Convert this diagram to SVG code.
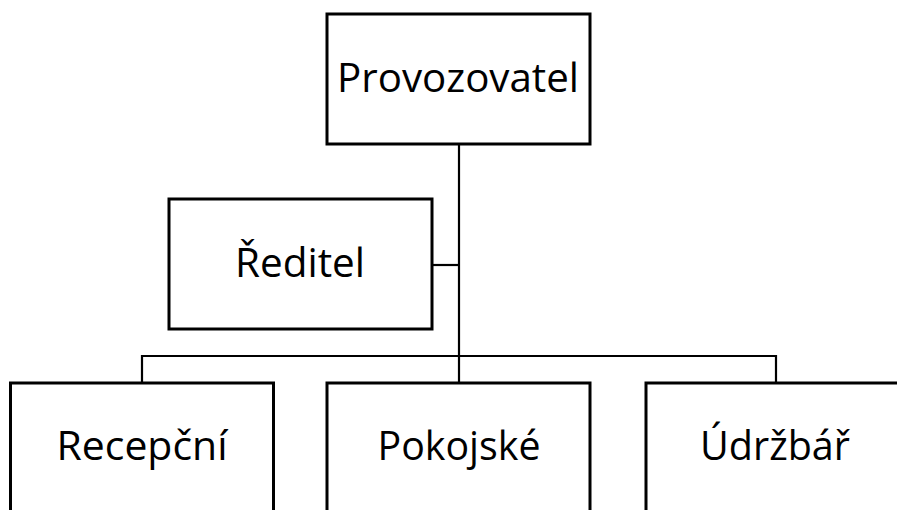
<svg xmlns="http://www.w3.org/2000/svg" width="897" height="510" viewBox="0 0 897 510">
<style>
.box{fill:#fff;stroke:#000;stroke-width:3}
.lbl{font-family:"Open Sans","Noto Sans",sans-serif;font-size:41px;fill:#000;text-anchor:middle}
.con{fill:none;stroke:#000;stroke-width:2.2}
</style>
<rect width="897" height="510" fill="#fff"/>
<g id="connectors">
<path class="con" d="M459 144V383"/>
<path class="con" d="M432 265H459"/>
<path class="con" d="M142 383V356H776V383"/>
</g>
<g id="provozovatel">
<rect class="box" x="327" y="14" width="263" height="130"/>
<text class="lbl" x="458" y="92" textLength="242" lengthAdjust="spacingAndGlyphs">Provozovatel</text>
</g>
<g id="reditel">
<rect class="box" x="169" y="199" width="263" height="130"/>
<text class="lbl" x="300" y="277" textLength="130" lengthAdjust="spacingAndGlyphs">Ředitel</text>
</g>
<g id="recepcni">
<rect class="box" x="10.5" y="383" width="263" height="140"/>
<text class="lbl" x="142" y="460" textLength="171" lengthAdjust="spacingAndGlyphs">Recepční</text>
</g>
<g id="pokojske">
<rect class="box" x="327" y="383" width="263" height="140"/>
<text class="lbl" x="459" y="460" textLength="163" lengthAdjust="spacingAndGlyphs">Pokojské</text>
</g>
<g id="udrzbar">
<rect class="box" x="646" y="383" width="263" height="140"/>
<text class="lbl" x="775" y="460" textLength="150" lengthAdjust="spacingAndGlyphs">Údržbář</text>
</g>
</svg>
